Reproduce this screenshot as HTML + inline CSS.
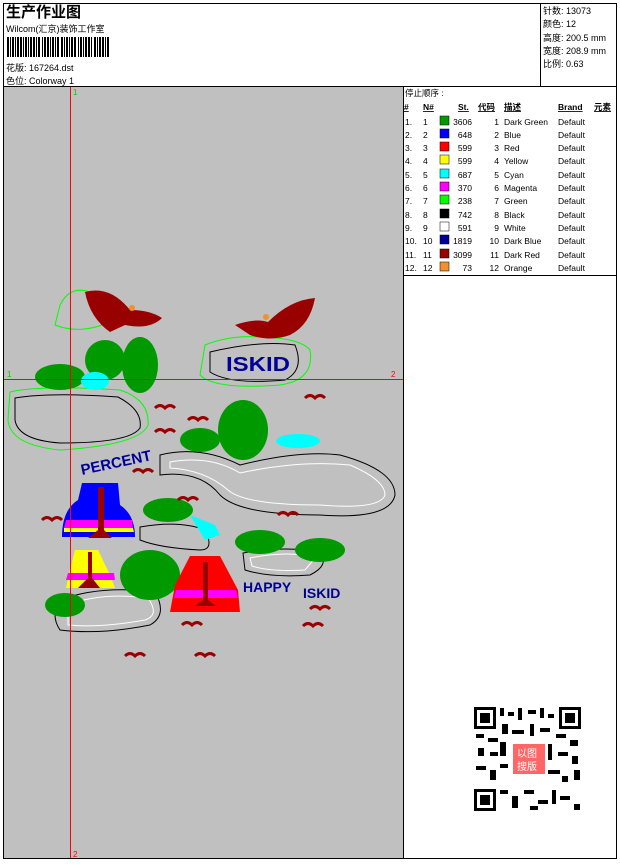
<!DOCTYPE html>
<html><head><meta charset="utf-8"><style>
body{margin:0;background:#fff;width:620px;height:861px;overflow:hidden;font-family:"Liberation Sans","Noto Sans CJK SC",sans-serif}
svg text{font-family:"Liberation Sans","Noto Sans CJK SC",sans-serif}
</style></head><body>
<svg width="620" height="861" xmlns="http://www.w3.org/2000/svg">
<rect x="0" y="0" width="620" height="861" fill="#fff"/>
<rect x="3.5" y="3.5" width="613" height="855" fill="none" stroke="#000"/>
<line x1="3" y1="86.5" x2="617" y2="86.5" stroke="#000"/>
<line x1="540.5" y1="3" x2="540.5" y2="87" stroke="#000"/>
<text x="6" y="17" font-size="15" font-weight="bold">生产作业图</text>
<text x="6" y="32" font-size="9">Wilcom(汇京)装饰工作室</text>
<g fill="#000">
<rect x="7" y="37" width="2" height="20"/><rect x="10" y="37" width="1" height="20"/><rect x="12" y="37" width="2" height="20"/><rect x="15" y="37" width="1" height="20"/><rect x="17" y="37" width="2" height="20"/><rect x="20" y="37" width="2" height="20"/><rect x="23" y="37" width="1" height="20"/><rect x="25" y="37" width="2" height="20"/><rect x="28" y="37" width="1" height="20"/><rect x="30" y="37" width="2" height="20"/><rect x="33" y="37" width="2" height="20"/><rect x="36" y="37" width="1" height="20"/><rect x="38" y="37" width="2" height="20"/><rect x="42" y="37" width="1" height="20"/><rect x="44" y="37" width="2" height="20"/><rect x="47" y="37" width="2" height="20"/><rect x="50" y="37" width="1" height="20"/><rect x="52" y="37" width="2" height="20"/><rect x="55" y="37" width="1" height="20"/><rect x="57" y="37" width="2" height="20"/><rect x="61" y="37" width="2" height="20"/><rect x="64" y="37" width="1" height="20"/><rect x="66" y="37" width="2" height="20"/><rect x="69" y="37" width="1" height="20"/><rect x="71" y="37" width="2" height="20"/><rect x="74" y="37" width="2" height="20"/><rect x="78" y="37" width="1" height="20"/><rect x="80" y="37" width="2" height="20"/><rect x="83" y="37" width="1" height="20"/><rect x="85" y="37" width="2" height="20"/><rect x="88" y="37" width="2" height="20"/><rect x="91" y="37" width="1" height="20"/><rect x="94" y="37" width="2" height="20"/><rect x="97" y="37" width="1" height="20"/><rect x="99" y="37" width="2" height="20"/><rect x="102" y="37" width="2" height="20"/><rect x="105" y="37" width="1" height="20"/><rect x="107" y="37" width="2" height="20"/>
</g>
<text x="6" y="71" font-size="9">花版: 167264.dst</text>
<text x="6" y="84" font-size="9">色位: Colorway 1</text>
<g font-size="9">
<text x="543" y="14">针数: 13073</text>
<text x="543" y="27">颜色: 12</text>
<text x="543" y="41">高度: 200.5 mm</text>
<text x="543" y="54">宽度: 208.9 mm</text>
<text x="543" y="67">比例: 0.63</text>
</g>
<rect x="4" y="87" width="399" height="771" fill="#c0c0c0"/>
<line x1="403.5" y1="87" x2="403.5" y2="858" stroke="#000"/>
<line x1="403" y1="275.5" x2="617" y2="275.5" stroke="#000"/>
<g font-size="8.5">
<text x="405" y="96">停止顺序 :</text>
<g font-weight="bold" text-decoration="underline"><text x="404" y="110">#</text><text x="423" y="110">N#</text><text x="458" y="110">St.</text><text x="478" y="110">代码</text><text x="504" y="110">描述</text><text x="558" y="110">Brand</text><text x="594" y="110">元素</text></g>
<g>
<text x="405" y="125">1.</text><text x="423" y="125">1</text><rect x="440" y="116" width="9" height="9" fill="#009900" stroke="#000" stroke-width=".5"/><text x="472" y="125" text-anchor="end">3606</text><text x="499" y="125" text-anchor="end">1</text><text x="504" y="125">Dark Green</text><text x="558" y="125">Default</text>
<text x="405" y="138">2.</text><text x="423" y="138">2</text><rect x="440" y="129" width="9" height="9" fill="#0000ff" stroke="#000" stroke-width=".5"/><text x="472" y="138" text-anchor="end">648</text><text x="499" y="138" text-anchor="end">2</text><text x="504" y="138">Blue</text><text x="558" y="138">Default</text>
<text x="405" y="151">3.</text><text x="423" y="151">3</text><rect x="440" y="142" width="9" height="9" fill="#ff0000" stroke="#000" stroke-width=".5"/><text x="472" y="151" text-anchor="end">599</text><text x="499" y="151" text-anchor="end">3</text><text x="504" y="151">Red</text><text x="558" y="151">Default</text>
<text x="405" y="164">4.</text><text x="423" y="164">4</text><rect x="440" y="155" width="9" height="9" fill="#ffff00" stroke="#000" stroke-width=".5"/><text x="472" y="164" text-anchor="end">599</text><text x="499" y="164" text-anchor="end">4</text><text x="504" y="164">Yellow</text><text x="558" y="164">Default</text>
<text x="405" y="178">5.</text><text x="423" y="178">5</text><rect x="440" y="169" width="9" height="9" fill="#00ffff" stroke="#000" stroke-width=".5"/><text x="472" y="178" text-anchor="end">687</text><text x="499" y="178" text-anchor="end">5</text><text x="504" y="178">Cyan</text><text x="558" y="178">Default</text>
<text x="405" y="191">6.</text><text x="423" y="191">6</text><rect x="440" y="182" width="9" height="9" fill="#ff00ff" stroke="#000" stroke-width=".5"/><text x="472" y="191" text-anchor="end">370</text><text x="499" y="191" text-anchor="end">6</text><text x="504" y="191">Magenta</text><text x="558" y="191">Default</text>
<text x="405" y="204">7.</text><text x="423" y="204">7</text><rect x="440" y="195" width="9" height="9" fill="#00ff00" stroke="#000" stroke-width=".5"/><text x="472" y="204" text-anchor="end">238</text><text x="499" y="204" text-anchor="end">7</text><text x="504" y="204">Green</text><text x="558" y="204">Default</text>
<text x="405" y="218">8.</text><text x="423" y="218">8</text><rect x="440" y="209" width="9" height="9" fill="#000" stroke="#000" stroke-width=".5"/><text x="472" y="218" text-anchor="end">742</text><text x="499" y="218" text-anchor="end">8</text><text x="504" y="218">Black</text><text x="558" y="218">Default</text>
<text x="405" y="231">9.</text><text x="423" y="231">9</text><rect x="440" y="222" width="9" height="9" fill="#fff" stroke="#000" stroke-width=".5"/><text x="472" y="231" text-anchor="end">591</text><text x="499" y="231" text-anchor="end">9</text><text x="504" y="231">White</text><text x="558" y="231">Default</text>
<text x="405" y="244">10.</text><text x="423" y="244">10</text><rect x="440" y="235" width="9" height="9" fill="#000099" stroke="#000" stroke-width=".5"/><text x="472" y="244" text-anchor="end">1819</text><text x="499" y="244" text-anchor="end">10</text><text x="504" y="244">Dark Blue</text><text x="558" y="244">Default</text>
<text x="405" y="258">11.</text><text x="423" y="258">11</text><rect x="440" y="249" width="9" height="9" fill="#990000" stroke="#000" stroke-width=".5"/><text x="472" y="258" text-anchor="end">3099</text><text x="499" y="258" text-anchor="end">11</text><text x="504" y="258">Dark Red</text><text x="558" y="258">Default</text>
<text x="405" y="271">12.</text><text x="423" y="271">12</text><rect x="440" y="262" width="9" height="9" fill="#f09030" stroke="#000" stroke-width=".5"/><text x="472" y="271" text-anchor="end">73</text><text x="499" y="271" text-anchor="end">12</text><text x="504" y="271">Orange</text><text x="558" y="271">Default</text>
</g></g>
<g fill="none" stroke-width="1">
<path d="M60 305 Q70 285 90 292 L110 322 Q80 335 55 325 Z" stroke="#00ff00"/>
<path d="M205 345 Q230 335 260 337 Q300 338 310 350 Q315 380 280 385 Q215 390 200 375 Z" stroke="#00ff00"/>
<path d="M210 352 Q260 340 295 345 Q305 370 285 380 Q230 385 210 372 Z" stroke="#000"/>
<path d="M10 392 Q40 385 120 390 Q150 400 148 425 Q140 445 60 450 Q10 445 8 420 Z" stroke="#00ff00"/>
<path d="M15 398 Q50 392 118 397 Q143 410 140 428 Q130 443 60 443 Q18 440 15 420 Z" stroke="#000"/>
<path d="M160 455 Q200 445 240 465 Q300 450 340 455 Q395 470 395 495 Q390 520 320 515 Q240 515 220 495 Q200 470 160 475 Z" stroke="#000"/>
<path d="M170 462 Q210 455 240 473 Q300 460 350 465 Q385 480 385 495 Q380 510 320 505 Q245 505 228 490 Q205 470 170 468 Z" stroke="#fff"/>
<path d="M140 527 Q180 520 205 530 Q215 550 200 550 Q160 548 140 540 Z" stroke="#000"/>
<path d="M243 553 Q290 545 320 553 Q330 565 310 575 Q270 578 245 570 Z" stroke="#000"/>
<path d="M250 558 Q290 550 315 558 L305 570 Q270 572 252 566 Z" stroke="#fff"/>
<path d="M60 600 Q100 585 155 592 Q168 615 150 625 Q100 635 60 630 Q50 615 60 600 Z" stroke="#000"/>
<path d="M68 605 Q100 592 148 598 Q160 615 145 620 Q100 628 68 625 Z" stroke="#fff"/>
</g>
<g fill="#009900">
<ellipse cx="60" cy="377" rx="25" ry="13"/><ellipse cx="105" cy="360" rx="20" ry="20"/><ellipse cx="140" cy="365" rx="18" ry="28"/>
<ellipse cx="200" cy="440" rx="20" ry="12"/><ellipse cx="243" cy="430" rx="25" ry="30"/>
<ellipse cx="168" cy="510" rx="25" ry="12"/><ellipse cx="260" cy="542" rx="25" ry="12"/><ellipse cx="320" cy="550" rx="25" ry="12"/>
<ellipse cx="150" cy="575" rx="30" ry="25"/><ellipse cx="65" cy="605" rx="20" ry="12"/>
</g>
<g fill="#00ffff"><ellipse cx="95" cy="381" rx="14" ry="9"/><ellipse cx="298" cy="441" rx="22" ry="7"/><path d="M190 515 L215 525 L220 535 L205 540 Z"/></g>
<g fill="#990000">
<path d="M85 292 Q110 285 130 310 Q150 310 162 318 Q150 330 125 325 L110 332 Q90 318 85 292 Z"/>
<path d="M235 325 Q255 318 268 322 Q290 300 315 298 Q310 325 290 335 Q270 342 250 335 Z"/>
</g>
<circle cx="132" cy="308" r="3" fill="#f09030"/><circle cx="266" cy="317" r="3" fill="#f09030"/>
<g stroke="#990000" stroke-width="3" fill="none">
<path d="M155 408 q5 -5 10 0 q5 -5 10 0"/><path d="M155 432 q5 -5 10 0 q5 -5 10 0"/><path d="M188 420 q5 -5 10 0 q5 -5 10 0"/><path d="M305 398 q5 -5 10 0 q5 -5 10 0"/><path d="M133 472 q5 -5 10 0 q5 -5 10 0"/><path d="M42 520 q5 -5 10 0 q5 -5 10 0"/><path d="M178 500 q5 -5 10 0 q5 -5 10 0"/><path d="M278 515 q5 -5 10 0 q5 -5 10 0"/><path d="M310 609 q5 -5 10 0 q5 -5 10 0"/><path d="M303 626 q5 -5 10 0 q5 -5 10 0"/><path d="M125 656 q5 -5 10 0 q5 -5 10 0"/><path d="M195 656 q5 -5 10 0 q5 -5 10 0"/><path d="M182 625 q5 -5 10 0 q5 -5 10 0"/>
</g>
<text x="226" y="371" font-size="20" font-weight="bold" fill="#000099" textLength="64" lengthAdjust="spacingAndGlyphs">ISKID</text>
<text x="82" y="475" font-size="15" font-weight="bold" fill="#000099" transform="rotate(-12 82 475)">PERCENT</text>
<text x="243" y="592" font-size="14" font-weight="bold" fill="#000099">HAPPY</text><text x="303" y="598" font-size="14" font-weight="bold" fill="#000099">ISKID</text>
<path d="M82 483 L118 483 L120 505 Q135 515 135 537 L62 537 Q62 510 78 500 Z" fill="#0000ff"/>
<path d="M66 520 L132 520 L133 528 L64 528 Z" fill="#ff00ff"/><path d="M64 528 L133 528 L134 532 L64 532 Z" fill="#ffff00"/>
<path d="M98 487 L104 487 L104 530 L112 538 L88 538 L98 530 Z" fill="#990000"/>
<path d="M75 550 L98 550 L110 575 L115 588 L66 588 L70 570 Z" fill="#ffff00"/>
<path d="M68 573 L114 573 L115 580 L66 580 Z" fill="#ff00ff"/>
<path d="M88 552 L92 552 L92 578 L100 588 L78 588 L88 578 Z" fill="#990000"/>
<path d="M190 556 L220 556 L238 590 L240 612 L170 612 L175 585 Z" fill="#ff0000"/>
<path d="M176 590 L236 590 L238 598 L174 598 Z" fill="#ff00ff"/>
<path d="M203 562 L208 562 L208 600 L216 606 L195 606 L203 600 Z" fill="#990000"/>
<line x1="70.5" y1="87" x2="70.5" y2="858" stroke="#ff0000"/>
<line x1="4" y1="379.5" x2="403" y2="379.5" stroke="#ff0000"/>
<text x="73" y="95" font-size="8" fill="#00cc00">1</text>
<text x="73" y="857" font-size="8" fill="#ff0000">2</text>
<text x="7" y="377" font-size="8" fill="#00cc00">1</text>
<text x="391" y="377" font-size="8" fill="#ff0000">2</text>
<rect x="470" y="704" width="116" height="110" fill="#fff"/>
<g fill="#000">
<rect x="474" y="707" width="22" height="22"/><rect x="477" y="710" width="16" height="16" fill="#fff"/><rect x="480" y="713" width="10" height="10"/>
<rect x="559" y="707" width="22" height="22"/><rect x="562" y="710" width="16" height="16" fill="#fff"/><rect x="565" y="713" width="10" height="10"/>
<rect x="474" y="789" width="22" height="22"/><rect x="477" y="792" width="16" height="16" fill="#fff"/><rect x="480" y="795" width="10" height="10"/>
<rect x="500" y="708" width="4" height="8"/><rect x="508" y="712" width="6" height="4"/><rect x="518" y="708" width="4" height="12"/><rect x="528" y="710" width="8" height="4"/><rect x="540" y="708" width="4" height="10"/><rect x="548" y="714" width="6" height="4"/>
<rect x="476" y="734" width="8" height="4"/><rect x="488" y="738" width="10" height="4"/><rect x="502" y="724" width="6" height="10"/><rect x="512" y="730" width="12" height="4"/><rect x="530" y="724" width="4" height="12"/><rect x="540" y="728" width="10" height="4"/><rect x="556" y="734" width="10" height="4"/><rect x="570" y="740" width="8" height="6"/>
<rect x="478" y="748" width="6" height="8"/><rect x="490" y="752" width="8" height="4"/><rect x="500" y="742" width="6" height="14"/><rect x="548" y="744" width="4" height="16"/><rect x="558" y="752" width="10" height="4"/><rect x="572" y="756" width="6" height="8"/>
<rect x="476" y="766" width="10" height="4"/><rect x="490" y="770" width="6" height="10"/><rect x="500" y="764" width="8" height="4"/><rect x="548" y="770" width="12" height="4"/><rect x="562" y="776" width="6" height="6"/><rect x="574" y="770" width="6" height="10"/>
<rect x="500" y="790" width="8" height="4"/><rect x="512" y="796" width="6" height="12"/><rect x="524" y="790" width="10" height="4"/><rect x="538" y="800" width="10" height="4"/><rect x="552" y="790" width="4" height="14"/><rect x="560" y="796" width="10" height="4"/><rect x="574" y="804" width="6" height="6"/><rect x="530" y="806" width="8" height="4"/>
</g>
<rect x="513" y="744" width="32" height="30" fill="#ff6666"/>
<text x="517" y="757" font-size="10" fill="#fff">以图</text><text x="517" y="770" font-size="10" fill="#fff">搜版</text>
</svg>
</body></html>
